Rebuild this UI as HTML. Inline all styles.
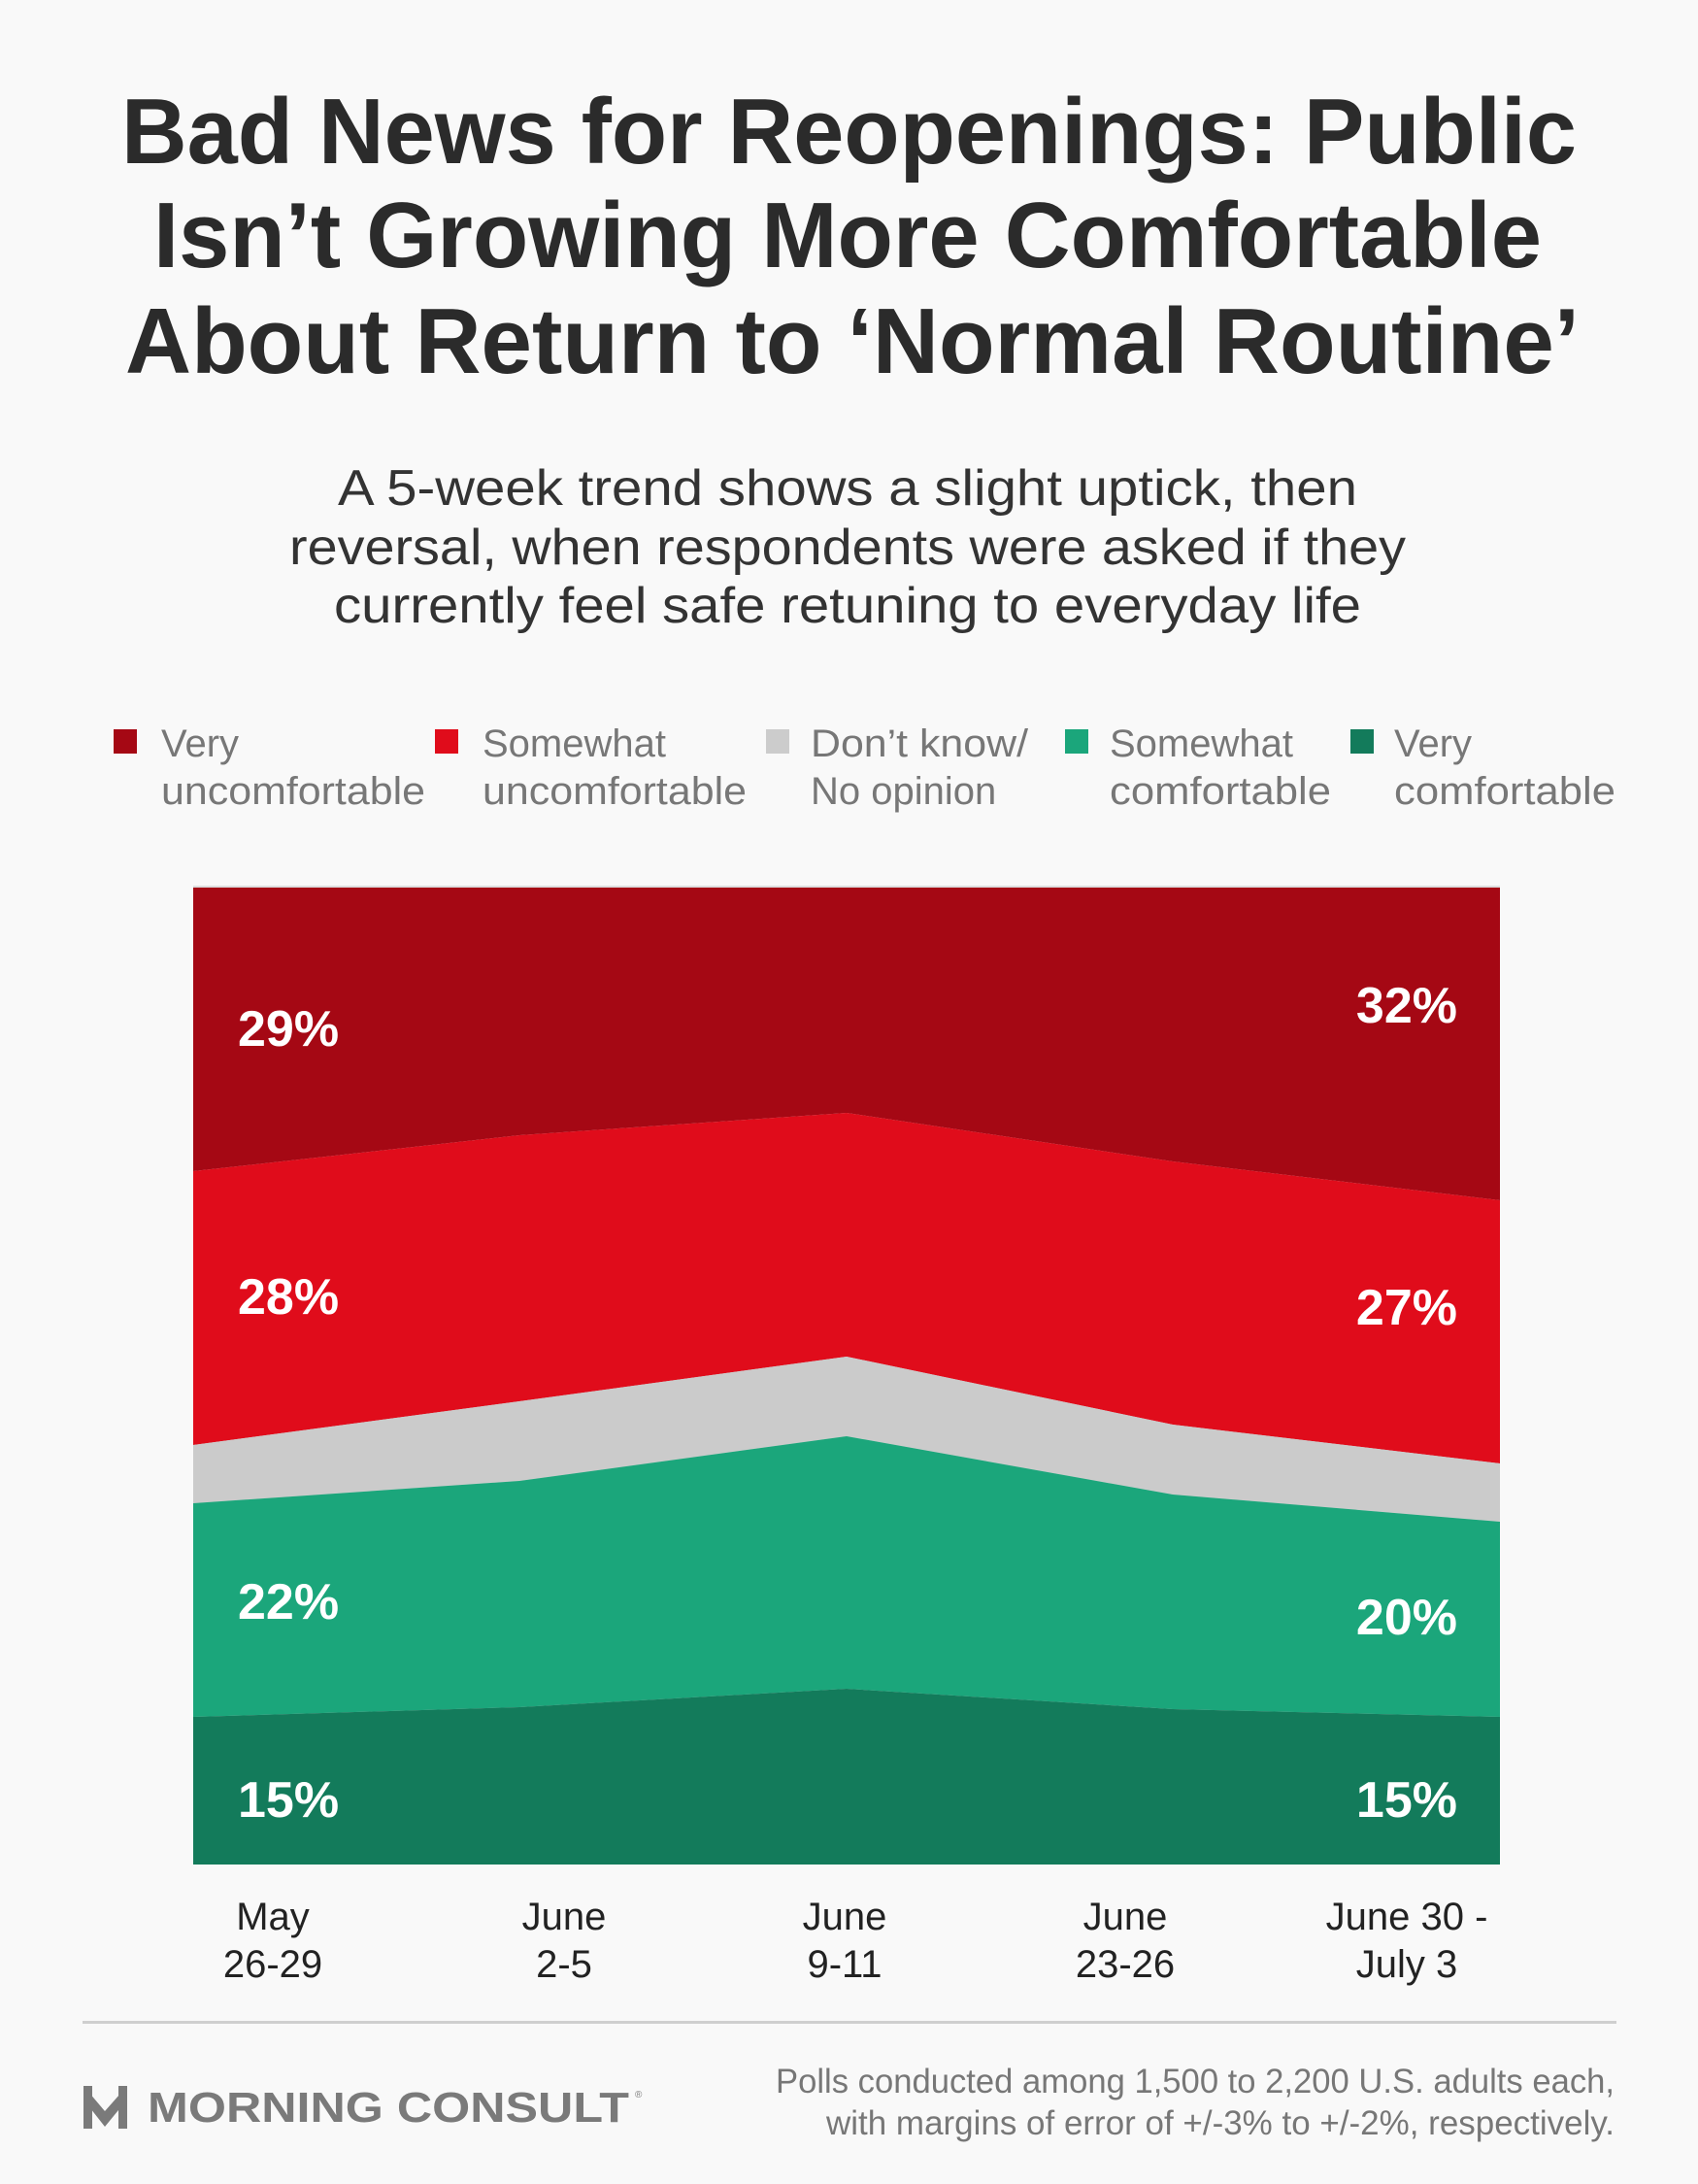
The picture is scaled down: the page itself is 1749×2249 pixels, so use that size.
<!DOCTYPE html>
<html><head><meta charset="utf-8"><style>
html,body{margin:0;padding:0;background:#f9f9f9;}
svg{display:block;}
text{font-family:"Liberation Sans",sans-serif;}
</style></head><body>
<svg width="1749" height="2249" viewBox="0 0 1749 2249" xmlns="http://www.w3.org/2000/svg">
<rect width="1749" height="2249" fill="#f9f9f9"/>
<g font-weight="bold" fill="#2b2b2b" font-size="96">
<text x="125" y="168" textLength="1499" lengthAdjust="spacingAndGlyphs">Bad News for Reopenings: Public</text>
<text x="158" y="275" textLength="1430" lengthAdjust="spacingAndGlyphs">Isn’t Growing More Comfortable</text>
<text x="129" y="384" textLength="1498" lengthAdjust="spacingAndGlyphs">About Return to ‘Normal Routine’</text>
</g>
<g fill="#333" font-size="52">
<text x="348" y="520" textLength="1050" lengthAdjust="spacingAndGlyphs">A 5-week trend shows a slight uptick, then</text>
<text x="298" y="581" textLength="1150" lengthAdjust="spacingAndGlyphs">reversal, when respondents were asked if they</text>
<text x="344" y="641" textLength="1058" lengthAdjust="spacingAndGlyphs">currently feel safe retuning to everyday life</text>
</g>
<g font-size="40" fill="#777">
<rect x="117" y="751" width="24" height="25" fill="#a50814"/>
<text x="166" y="779">Very</text><text x="166" y="828" textLength="272" lengthAdjust="spacingAndGlyphs">uncomfortable</text>
<rect x="448" y="751" width="24" height="25" fill="#e00c1b"/>
<text x="497" y="779">Somewhat</text><text x="497" y="828" textLength="272" lengthAdjust="spacingAndGlyphs">uncomfortable</text>
<rect x="789" y="751" width="24" height="25" fill="#cccccc"/>
<text x="835" y="779" textLength="224" lengthAdjust="spacingAndGlyphs">Don’t know/</text><text x="835" y="828">No opinion</text>
<rect x="1097" y="751" width="24" height="25" fill="#1ba67b"/>
<text x="1143" y="779">Somewhat</text><text x="1143" y="828" textLength="228" lengthAdjust="spacingAndGlyphs">comfortable</text>
<rect x="1391" y="751" width="24" height="25" fill="#137b5b"/>
<text x="1436" y="779">Very</text><text x="1436" y="828" textLength="228" lengthAdjust="spacingAndGlyphs">comfortable</text>
</g>
<rect x="199" y="912" width="1346" height="1008" fill="#ddd"/>
<polygon points="199,914 1545,914 1545,1236 1208,1196 872,1146 535,1169 199,1206" fill="#a50814"/>
<polygon points="199,1206 535,1169 872,1146 1208,1196 1545,1236 1545,1507 1208,1467 872,1397 535,1443 199,1488" fill="#e00c1b"/>
<polygon points="199,1488 535,1443 872,1397 1208,1467 1545,1507 1545,1567 1208,1539 872,1479 535,1525 199,1548" fill="#cbcbcb"/>
<polygon points="199,1548 535,1525 872,1479 1208,1539 1545,1567 1545,1768 1208,1760 872,1739 535,1758 199,1768" fill="#1ba67b"/>
<polygon points="199,1768 535,1758 872,1739 1208,1760 1545,1768 1545,1920 199,1920" fill="#137b5b"/>
<g fill="#fff" font-weight="bold" font-size="52">
<text x="245" y="1077">29%</text>
<text x="245" y="1353">28%</text>
<text x="245" y="1667">22%</text>
<text x="245" y="1871">15%</text>
<g text-anchor="end">
<text x="1501" y="1053">32%</text>
<text x="1501" y="1364">27%</text>
<text x="1501" y="1683">20%</text>
<text x="1501" y="1871">15%</text>
</g>
</g>
<g fill="#222" font-size="40" text-anchor="middle">
<text x="281" y="1987">May</text><text x="281" y="2036">26-29</text>
<text x="581" y="1987">June</text><text x="581" y="2036">2-5</text>
<text x="870" y="1987">June</text><text x="870" y="2036">9-11</text>
<text x="1159" y="1987">June</text><text x="1159" y="2036">23-26</text>
<text x="1449" y="1987">June 30 -</text><text x="1449" y="2036">July 3</text>
</g>
<rect x="85" y="2081" width="1580" height="3" fill="#cfcfcf"/>
<g fill="#7a7a7a">
<rect x="86" y="2148" width="9" height="44"/>
<rect x="122" y="2148" width="9" height="44"/>
<polygon points="86,2148 108,2174 131,2148 131,2162 108,2190 86,2162"/>
<text x="152" y="2185" font-size="44" font-weight="bold" textLength="496" lengthAdjust="spacingAndGlyphs">MORNING CONSULT</text>
<text x="654" y="2160" font-size="10">®</text>
</g>
<g fill="#777" font-size="35" text-anchor="end">
<text x="1663" y="2155" textLength="864" lengthAdjust="spacingAndGlyphs">Polls conducted among 1,500 to 2,200 U.S. adults each,</text>
<text x="1663" y="2198" textLength="812" lengthAdjust="spacingAndGlyphs">with margins of error of +/-3% to +/-2%, respectively.</text>
</g>
</svg>
</body></html>
